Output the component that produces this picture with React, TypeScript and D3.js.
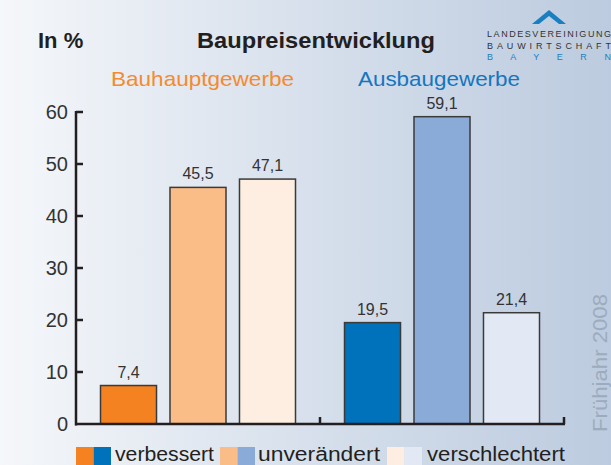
import React from "react";
import * as d3 from "d3";

const groups = ["Bauhauptgewerbe", "Ausbaugewerbe"];
const series = ["verbessert", "unverändert", "verschlechtert"];
const valuesBauhaupt = [7.4, 45.5, 47.1];
const valuesAusbau = [19.5, 59.1, 21.4];
const yTicks = [0, 10, 20, 30, 40, 50, 60];
const colorsBauhaupt = ["#f58220", "#fbbd87", "#fdeee1"];
const colorsAusbau = ["#0071bb", "#8aaad8", "#e2e9f5"];
const groupColors = ["#f58a2e", "#1576c0"];

const W = 611;
const H = 465;

export default function App() {
  const y = d3.scaleLinear().domain([0, 60]).range([424, 112]);
  const gx = d3.scaleBand().domain(groups).range([76, 564]).paddingInner(0).paddingOuter(0);
  const inner = d3
    .scaleBand()
    .domain(series)
    .range([24.5, gx.bandwidth() - 24.5])
    .paddingInner(0.194)
    .paddingOuter(0);
  const data = [valuesBauhaupt, valuesAusbau];
  const cols = [colorsBauhaupt, colorsAusbau];
  const fmt = (v: number) => v.toFixed(1).replace(".", ",");
  const font = "'Liberation Sans', Arial, sans-serif";
  const groupTitleX = [111, 358];
  const groupTitleW = [183, 162];

  return (
    <svg
      width={W}
      height={H}
      style={{ position: "absolute", left: 0, top: 0, display: "block" }}
      fontFamily={font}
    >
      <defs>
        <linearGradient id="bg" x1="0" y1="0" x2="1" y2="0">
          <stop offset="0" stopColor="#f5f7fa" />
          <stop offset="0.5" stopColor="#d7e0ec" />
          <stop offset="1" stopColor="#bccbdf" />
        </linearGradient>
      </defs>
      <rect x={0} y={0} width={W} height={H} fill="url(#bg)" />

      {/* header */}
      <text x={38} y={48} fontSize={22} fontWeight="bold" fill="#231f20">
        In %
      </text>
      <text x={197} y={48} fontSize={22} fontWeight="bold" fill="#231f20" textLength={238} lengthAdjust="spacingAndGlyphs">
        Baupreisentwicklung
      </text>

      {/* logo */}
      <polygon points="532,24 549,10 566,24 559,24 549,16 539,24" fill="#1a7fc1" />
      <text x={487} y={37} fontSize={9} fill="#333" textLength={124} lengthAdjust="spacing">
        LANDESVEREINIGUNG
      </text>
      <text x={487} y={49} fontSize={9} fill="#333" textLength={124} lengthAdjust="spacing">
        BAUWIRTSCHAFT
      </text>
      <text x={487} y={60} fontSize={9} fill="#1a7fc1" textLength={124} lengthAdjust="spacing">
        B A Y E R N
      </text>

      {/* group titles */}
      {groups.map((g, i) => (
        <text
          key={g}
          x={groupTitleX[i]}
          y={86}
          fontSize={21}
          fill={groupColors[i]}
          textLength={groupTitleW[i]}
          lengthAdjust="spacingAndGlyphs"
        >
          {g}
        </text>
      ))}

      {/* bars */}
      {groups.map((g, gi) =>
        series.map((s, si) => {
          const x0 = (gx(g) as number) + (inner(s) as number);
          const v = data[gi][si];
          return (
            <g key={g + s}>
              <rect
                x={x0}
                y={y(v)}
                width={inner.bandwidth()}
                height={y(0) - y(v)}
                fill={cols[gi][si]}
                stroke="#3a3a3a"
                strokeWidth={1.5}
              />
              <text
                x={x0 + inner.bandwidth() / 2}
                y={y(v) - 8}
                fontSize={16}
                textAnchor="middle"
                fill="#333"
              >
                {fmt(v)}
              </text>
            </g>
          );
        })
      )}

      {/* y axis */}
      <line x1={76} x2={76} y1={y(60) - 1} y2={y(0) + 1.5} stroke="#231f20" strokeWidth={2.5} />
      {yTicks.map((t) => (
        <g key={t}>
          {t > 0 && <line x1={76} x2={83} y1={y(t)} y2={y(t)} stroke="#231f20" strokeWidth={2.5} />}
          <text x={68} y={y(t)} dy="0.35em" fontSize={20} textAnchor="end" fill="#333">
            {t}
          </text>
        </g>
      ))}

      {/* x axis */}
      <line x1={75} x2={565} y1={y(0)} y2={y(0)} stroke="#231f20" strokeWidth={2.5} />
      {[gx(groups[1]) as number, 564].map((x, i) => (
        <line key={i} x1={x} x2={x} y1={y(0)} y2={y(0) - 7} stroke="#231f20" strokeWidth={2.5} />
      ))}

      {/* vertical note */}
      <text
        transform="translate(607,432) rotate(-90)"
        fontSize={21}
        fill="#9dabbd"
        textLength={138}
        lengthAdjust="spacingAndGlyphs"
      >
        Frühjahr 2008
      </text>

      {/* legend */}
      {series.map((s, i) => {
        const lx = [76, 220, 387][i];
        const tx = [115, 258, 427][i];
        const tw = [99, 122, 138][i];
        return (
          <g key={s}>
            <rect x={lx} y={447} width={17.5} height={20} fill={colorsBauhaupt[i]} />
            <rect x={lx + 17.5} y={447} width={17.5} height={20} fill={colorsAusbau[i]} />
            <text x={tx} y={461} fontSize={20} fill="#231f20" textLength={tw} lengthAdjust="spacingAndGlyphs">
              {s}
            </text>
          </g>
        );
      })}
    </svg>
  );
}
